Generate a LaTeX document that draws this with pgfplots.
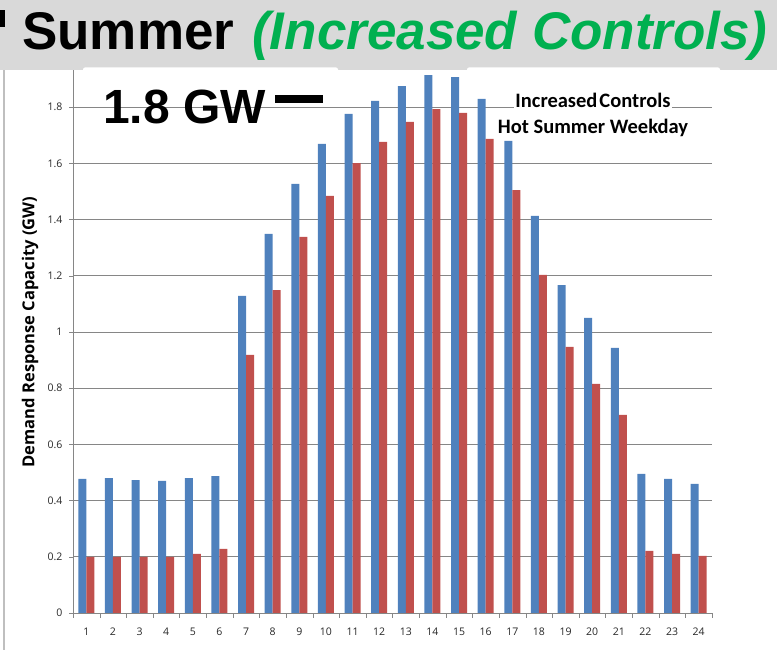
\documentclass[border=0pt]{standalone}
\usepackage{pgfplots}
\pgfplotsset{compat=1.18}
\usepackage{pgfplotstable}
\usepackage{fontspec}
\setmainfont{Open Sans}
\newfontfamily\arialfont{Liberation Sans}
\newfontfamily\calfont{Carlito}
\definecolor{xblue}{RGB}{79,129,189}
\definecolor{xred}{RGB}{192,80,77}
\definecolor{xgreen}{RGB}{0,176,80}
\definecolor{band}{RGB}{217,217,217}
\definecolor{gridc}{RGB}{134,134,134}

\pgfplotstableread{
h blue red
1 0.477 0.200
2 0.480 0.200
3 0.473 0.200
4 0.470 0.200
5 0.480 0.210
6 0.487 0.228
7 1.128 0.918
8 1.349 1.149
9 1.527 1.338
10 1.669 1.484
11 1.776 1.601
12 1.822 1.676
13 1.875 1.747
14 1.914 1.793
15 1.907 1.779
16 1.829 1.687
17 1.680 1.505
18 1.413 1.203
19 1.167 0.947
20 1.050 0.815
21 0.943 0.705
22 0.495 0.221
23 0.477 0.210
24 0.459 0.203
}\datatable

\begin{document}
\begin{tikzpicture}[x=1pt,y=1pt]
\path[use as bounding box] (0,0) rectangle (777,650);
\begin{axis}[
  at={(73pt,37pt)}, anchor=south west, scale only axis,
  width=639pt, height=543pt,
  xmin=0.5, xmax=24.5, ymin=0, ymax=1.932,
  ybar=0pt, bar width=8pt,
  axis lines*=left,
  axis line style={gridc},
  xtick={1,...,24},
  minor xtick={0.5,1.5,...,24.5},
  major x tick style={draw=none},
  minor x tick style={gridc},
  minor tick length=5pt,
  ytick={0,0.2,...,1.8},
  major y tick style={gridc},
  major tick length=4pt,
  tick align=outside,
  ymajorgrids,
  grid style={gridc, line width=0.8pt},
  tick label style={font=\fontsize{10.5}{12}\selectfont, text=black!85},
  yticklabel style={xshift=-3pt},
  xticklabel style={yshift=-7pt},
  /pgf/number format/.cd, fixed, precision=1, assume math mode=true,
]
\addplot[fill=xblue, draw=none] table[x=h, y=blue] {\datatable};
\addplot[fill=xred, draw=none] table[x=h, y=red] {\datatable};
\end{axis}
% y label
\node[rotate=90, font=\bfseries\fontsize{16.5}{18}\selectfont] at (30,318) {Demand Response Capacity (GW)};
% banner
\fill[band] (0,580) rectangle (777,650);
\fill[white, rounded corners=2pt] (83,578) rectangle (338,582.5);
\fill[white, rounded corners=2pt] (467,578) rectangle (720,582.5);
\fill[black] (0,623) rectangle (5,640);
\draw[gray!50, line width=1.5pt] (4,0) -- (4,580);
\node[anchor=base west, inner sep=0, font=\arialfont\bfseries\fontsize{53}{60}\selectfont] at (22,600) {Summer\hspace{18pt}\textcolor{xgreen}{\itshape (Increased Controls)}};
% annotation
\node[anchor=base west, inner sep=0, font=\arialfont\bfseries\fontsize{48}{50}\selectfont] at (103,526) {1.8 GW};
\fill[black] (275,547) rectangle (323,555);
\node[fill=white, inner sep=1pt, font=\calfont\bfseries\fontsize{20.5}{22}\selectfont] at (593,550) {Increased\hspace{2pt}Controls};
\node[font=\calfont\bfseries\fontsize{20.5}{22}\selectfont] at (593,522) {Hot Summer Weekday};
\end{tikzpicture}
\end{document}
